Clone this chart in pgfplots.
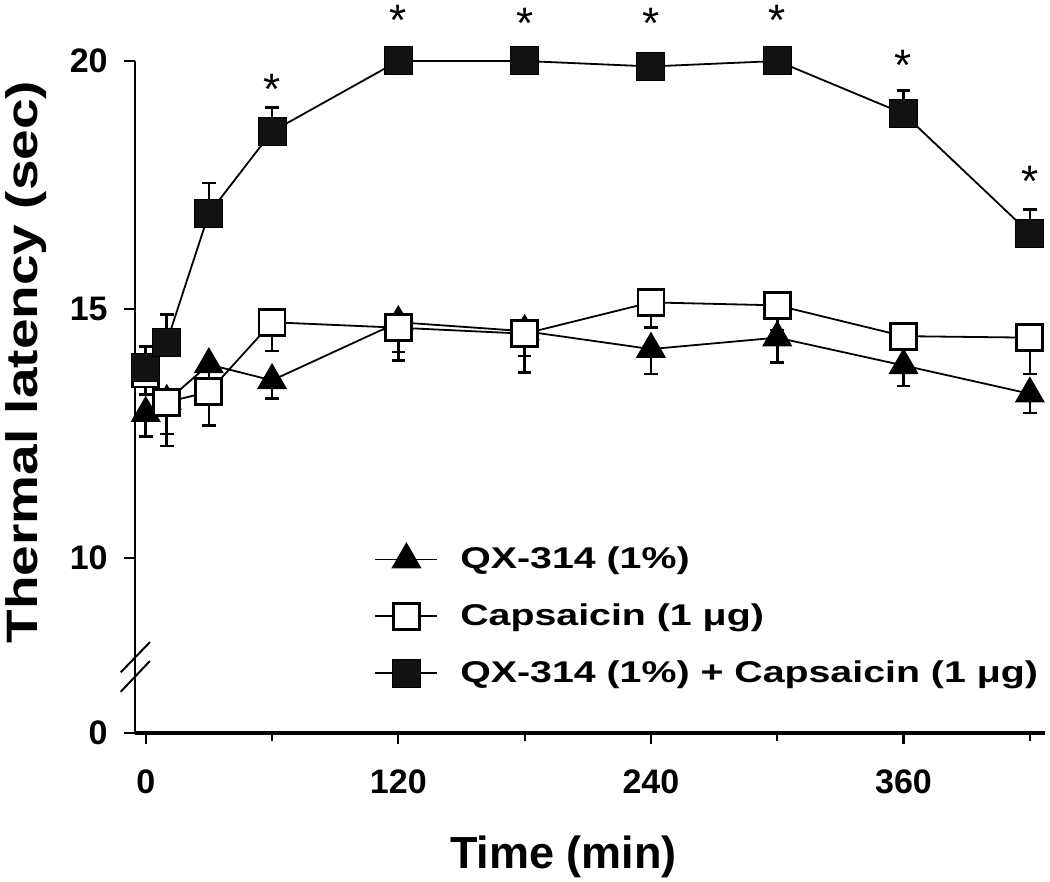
\documentclass[border=0pt]{standalone}
\usepackage{pgfplots}
\pgfplotsset{compat=1.18}
\usepackage{pgfplotstable}
\usepackage{fontspec}
\setmainfont{Liberation Sans}
\newfontfamily\stretchfont{Liberation Sans}[FakeStretch=1.25]
\newfontfamily\legfont{Liberation Sans}[FakeStretch=1.31]

\pgfplotstableread{
x y e
0 12.91 0.47
10 13.15 0.66
30 13.89 0.50
60 13.57 0.37
120 14.74 0.60
180 14.56 0.50
240 14.20 0.50
300 14.43 0.50
360 13.87 0.41
420 13.30 0.39
}\tri

\pgfplotstableread{
x y e
0 13.70 0.42
10 13.13 0.88
30 13.34 0.68
60 14.74 0.58
120 14.63 0.66
180 14.51 0.78
240 15.14 0.50
300 15.08 0.50
360 14.46 0.50
420 14.43 0.73
}\caps

\pgfplotstableread{
x y e
0 13.83 0.42
10 14.34 0.55
30 16.93 0.61
60 18.58 0.48
120 20.00 0.15
180 20.00 0.15
240 19.89 0.15
300 20.00 0.15
360 18.94 0.46
420 16.53 0.48
}\combo

\pgfplotstableread{
x y
60 19.64
120 21.03
180 20.97
240 20.96
300 21.03
360 20.12
420 17.77
}\stars

\begin{document}
\begin{tikzpicture}
\begin{axis}[
  width=455pt, height=336pt, scale only axis,
  xmin=-5.1, xmax=427.2, ymin=6.47, ymax=20,
  axis x line=bottom, axis y line=left,
  x axis line style={-, line width=1.6pt},
  y axis line style={-, line width=1pt},
  xtick={0,120,240,360}, xticklabels={0,120,240,360},
  minor xtick={60,180,300,420},
  ytick={6.47,10,15,20}, yticklabels={0,10,15,20},
  tick align=outside, major tick length=5.5pt, minor tick length=4pt,
  every tick/.style={line width=1.1pt, black},
  ticklabel style={font=\bfseries\fontsize{17}{17}\selectfont},
  yticklabel style={inner sep=0pt, anchor=east, xshift=-8pt},
  xticklabel style={inner sep=0pt, anchor=north, yshift=-12.5pt},
  xlabel={Time (min)}, ylabel={Thermal latency (sec)},
  every axis x label/.style={at={(rel axis cs:0.471,0)}, anchor=center, yshift=-62pt, font=\bfseries\fontsize{22.5}{22.5}\selectfont},
  every axis y label/.style={at={(rel axis cs:0,0.552)}, xshift=-54.5pt, rotate=90, anchor=center, font=\stretchfont\bfseries\fontsize{22}{22}\selectfont},
  clip=false,
  legend style={at={(axis cs:108.5,10.3)}, anchor=north west, draw=none, fill=none, inner sep=0pt,
    font=\legfont\bfseries\fontsize{15}{15}\selectfont, row sep=12pt, column sep=9pt},
  legend cell align=left,
  legend image code/.code={\draw[mark repeat=2,mark phase=2] plot coordinates {(0pt,0pt) (15.5pt,0pt) (31pt,0pt)};},
  error bars/error bar style={line width=1.3pt, black},
  error bars/error mark options={rotate=90, mark size=3.4pt, line width=1.3pt, black},
]
\coordinate (O) at (rel axis cs:0,0);

\addplot[black, line width=0.9pt, mark=triangle*, mark size=8.2pt, mark options={fill=black, line width=0.5pt},
  error bars/.cd, y dir=minus, y explicit]
  table[x=x, y=y, y error=e] {\tri};
\addlegendentry{QX-314 (1\%)}

\addplot[black, line width=0.9pt, mark=square*, mark size=6.5pt, mark options={fill=white, draw=black, line width=1.4pt},
  error bars/.cd, y dir=minus, y explicit]
  table[x=x, y=y, y error=e] {\caps};
\addlegendentry{Capsaicin (1 μg)}

\addplot[black, line width=0.9pt, mark=square*, mark size=7pt, mark options={fill=black!93, draw=black, line width=0.5pt},
  error bars/.cd, y dir=plus, y explicit]
  table[x=x, y=y, y error=e] {\combo};
\addlegendentry{QX-314 (1\%) + Capsaicin (1 μg)}

\addplot[only marks, mark=text, text mark={*}, text mark as node=true,
  text mark style={font=\fontsize{22}{22}\selectfont, anchor=base, yshift=-12.6pt, inner sep=0pt}]
  table[x=x, y=y] {\stars};

\draw[line width=1pt] (axis cs:-11.9,7.69) -- (axis cs:2.0,8.30);
\draw[line width=1pt] (axis cs:-11.9,7.30) -- (axis cs:2.0,7.92);
\end{axis}
\pgfresetboundingbox
\path ([shift={(-67.5pt,-74.5pt)}]O) rectangle ([shift={(457.5pt,366.5pt)}]O);
\end{tikzpicture}
\end{document}
